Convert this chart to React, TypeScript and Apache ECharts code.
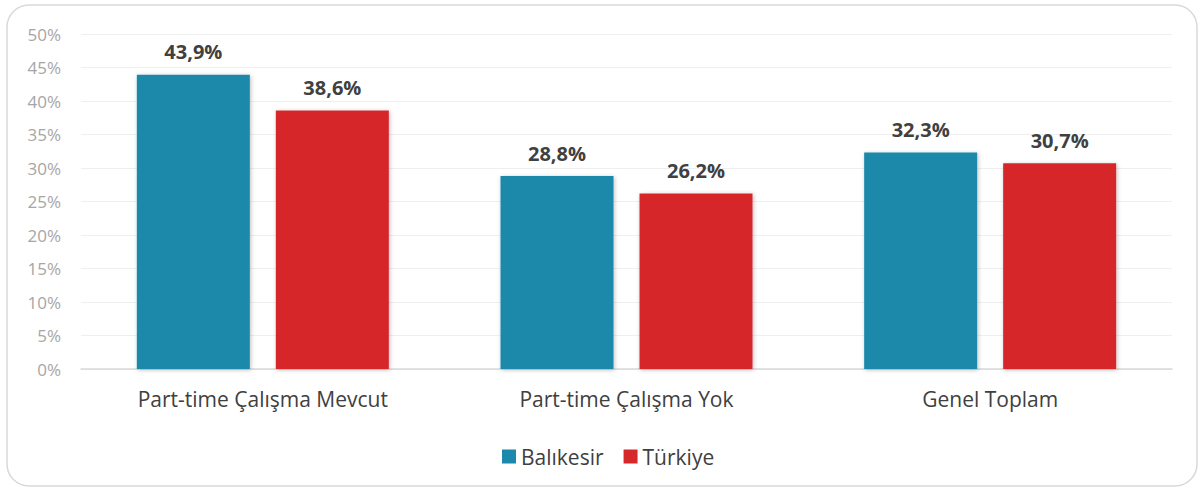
import React, { useEffect, useRef } from "react";
import * as echarts from "echarts";

const categories = ["Part-time Çalışma Mevcut", "Part-time Çalışma Yok", "Genel Toplam"];
const balikesir = [43.9, 28.8, 32.3];
const turkiye = [38.6, 26.2, 30.7];
const seriesNames = ["Balıkesir", "Türkiye"];

export default function App() {
  const ref = useRef<HTMLDivElement>(null);
  useEffect(() => {
    document.body.style.margin = "0";
    const chart = echarts.init(ref.current!, null, { renderer: "svg" });
    const fmt = (p: any) => p.value.toFixed(1).replace(".", ",") + "%";
    const labelStyle = {
      show: true,
      position: "top",
      distance: 13,
      formatter: fmt,
      fontFamily: "Open Sans",
      fontWeight: "bold",
      fontSize: 20,
      color: "#404040",
    };
    chart.setOption({
      animation: false,
      textStyle: { fontFamily: "Open Sans" },
      graphic: [
        {
          type: "rect",
          shape: { x: 7, y: 5, width: 1190, height: 481, r: 22 },
          style: { fill: "none", stroke: "#d9d9d9", lineWidth: 1.5 },
          silent: true,
        },
      ],
      legend: {
        data: seriesNames,
        left: 497,
        top: 441,
        itemWidth: 14,
        itemHeight: 14,
        itemGap: 20,
        icon: "rect",
        textStyle: { fontSize: 21, color: "#404040", fontFamily: "Open Sans" },
      },
      grid: { left: 81, right: 28, top: 34, bottom: 120 },
      xAxis: {
        type: "category",
        data: categories,
        axisTick: { show: false },
        axisLine: { lineStyle: { color: "#d9d9d9", width: 1.5 } },
        axisLabel: { fontSize: 21, color: "#404040", margin: 19, fontFamily: "Open Sans" },
      },
      yAxis: {
        type: "value",
        min: 0,
        max: 50,
        interval: 5,
        axisLabel: { formatter: "{value}%", fontSize: 17, color: "#a6a6a6", margin: 20, fontFamily: "Open Sans" },
        splitLine: { lineStyle: { color: "#efefef", width: 1 } },
        axisLine: { show: false },
        axisTick: { show: false },
      },
      series: [
        {
          name: seriesNames[0],
          type: "bar",
          data: balikesir,
          barWidth: 113,
          barGap: "23%",
          itemStyle: { color: "#1b89ab", shadowColor: "rgba(0,0,0,0.25)", shadowBlur: 4, shadowOffsetX: 1, shadowOffsetY: 1 },
          label: labelStyle,
        },
        {
          name: seriesNames[1],
          type: "bar",
          data: turkiye,
          barWidth: 113,
          itemStyle: { color: "#d6282b", shadowColor: "rgba(0,0,0,0.25)", shadowBlur: 4, shadowOffsetX: 1, shadowOffsetY: 1 },
          label: labelStyle,
        },
      ],
    });
    return () => chart.dispose();
  }, []);
  return (
    <div
      ref={ref}
      style={{ position: "absolute", left: 0, top: 0, width: 1200, height: 489, background: "#fff" }}
    />
  );
}
